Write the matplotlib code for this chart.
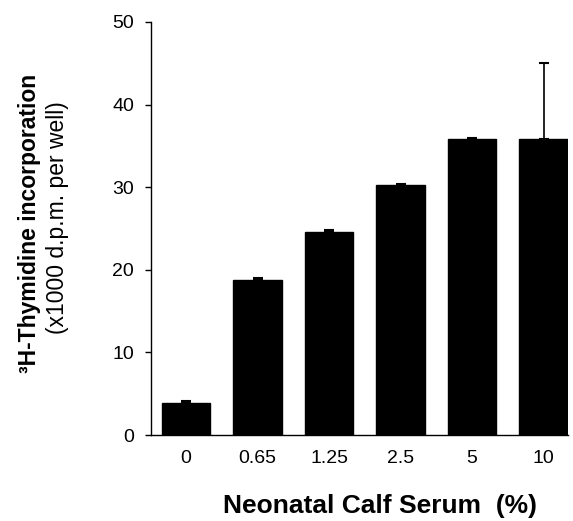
import matplotlib
matplotlib.use("Agg")
import matplotlib.pyplot as plt
import numpy as np

# serum concentrations and 3H-thymidine incorporation (x1000 dpm per well)
serum = ["0", "0.65", "1.25", "2.5", "5", "10"]
incorporation = [3.9, 18.8, 24.6, 30.2, 35.8, 35.8]
sem = [0.25, 0.2, 0.2, 0.2, 0.15, 9.2]

plt.rcParams['font.family'] = ['Liberation Sans', 'DejaVu Sans']

fig = plt.figure(figsize=(5.73, 5.21), dpi=100)
ax = fig.add_axes([0.2635, 0.165, 0.7275, 0.793])

x = np.arange(len(serum))
ax.bar(x, incorporation, width=0.68, color='black', edgecolor='black', zorder=2)
ax.errorbar(x, incorporation, yerr=[np.zeros(len(sem)), sem], fmt='none',
            ecolor='black', elinewidth=1.2, capsize=3.6, capthick=1.5, zorder=3)

ax.set_xlim(-0.49, 5.34)
ax.set_ylim(0, 50)
ax.set_yticks([0, 10, 20, 30, 40, 50])
ax.set_xticks(x)
ax.set_xticklabels(serum)

for s in ['top', 'right']:
    ax.spines[s].set_visible(False)
ax.spines['left'].set_linewidth(1.0)
ax.spines['bottom'].set_linewidth(1.0)

ax.tick_params(axis='y', direction='out', length=4.3, width=1, pad=8, labelsize=14)
ax.tick_params(axis='x', length=0, pad=11, labelsize=14)

# x label placed by hand
fig.text(0.664, 0.029, "Neonatal Calf Serum  (%)", fontsize=19, fontweight='bold',
         ha='center', va='center')

# two line y label: bold first line, plain second line
fig.text(0.052, 0.572, "³H-Thymidine incorporation", rotation=90, fontsize=16.5,
         fontweight='bold', ha='center', va='center')
fig.text(0.101, 0.583, "(x1000 d.p.m. per well)", rotation=90, fontsize=16.5,
         ha='center', va='center')

plt.savefig("out.png", dpi=100)
plt.close()
